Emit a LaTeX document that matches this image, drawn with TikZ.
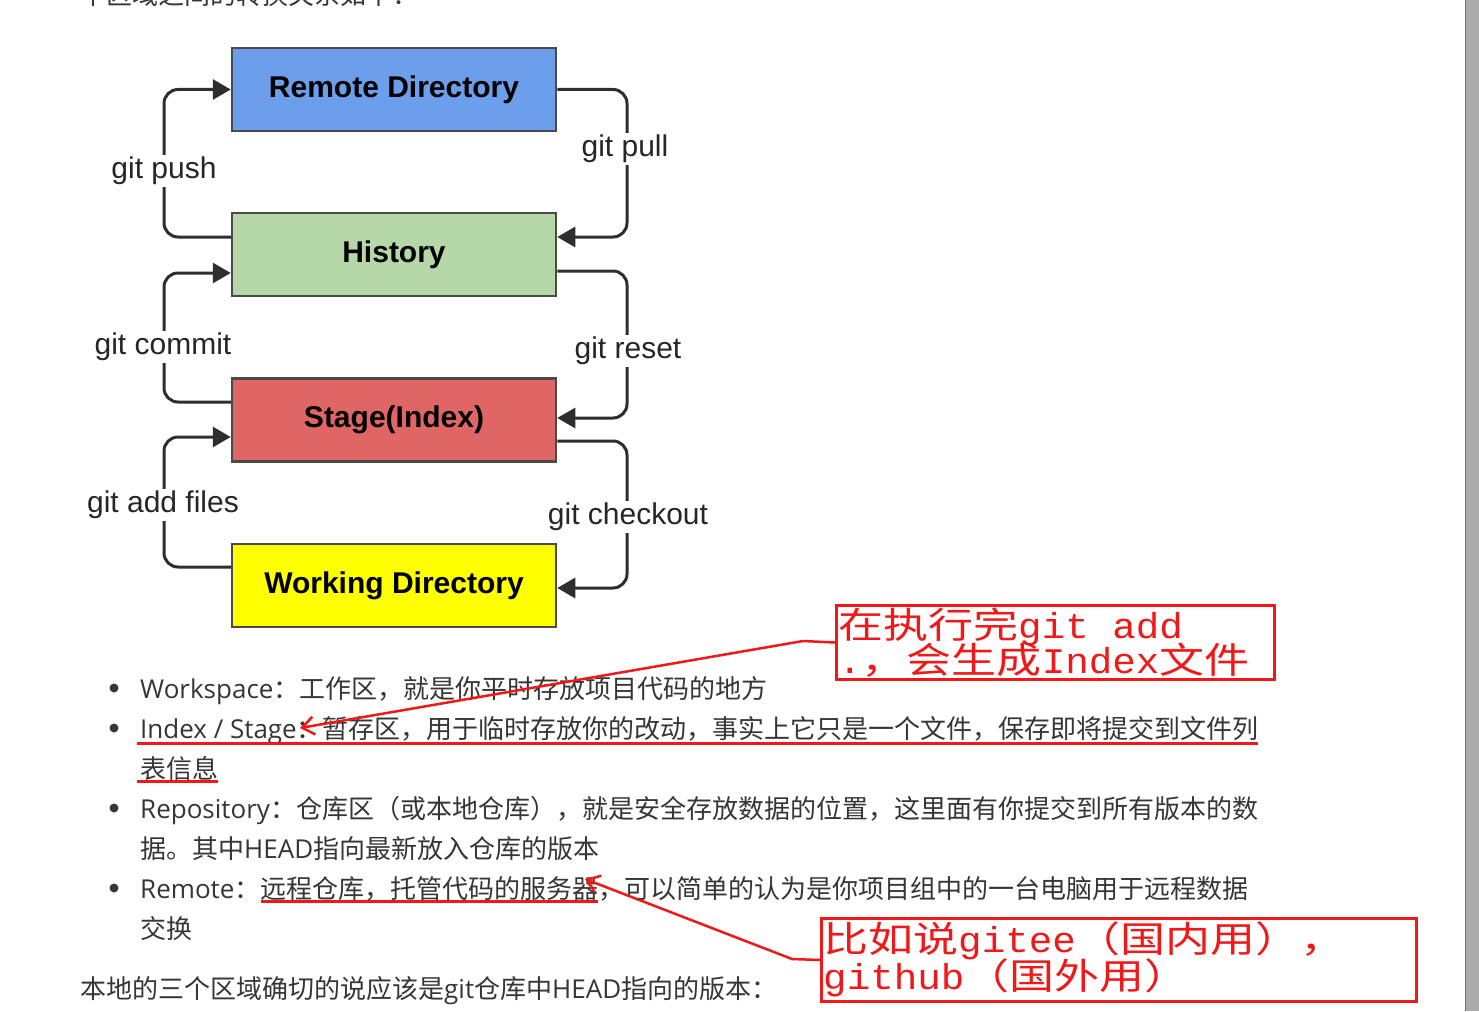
\documentclass[tikz,border=0pt]{standalone}
\usepackage{fontspec}
\setmainfont{Open Sans}
\newfontfamily\zhfont{Noto Sans CJK SC}
\newfontfamily\diafont{Liberation Sans}
\newfontfamily\redzh[FakeStretch=1.25]{Noto Sans CJK SC}
\newfontfamily\redlat[FakeStretch=1.09]{Liberation Mono}
\usetikzlibrary{arrows.meta}
\definecolor{remoteblue}{HTML}{6D9EEB}
\definecolor{histgreen}{HTML}{B6D7A8}
\definecolor{stagered}{HTML}{E06666}
\definecolor{workyellow}{HTML}{FFFF00}
\definecolor{boxborder}{HTML}{4A4A4A}
\definecolor{connc}{HTML}{2E2E2E}
\definecolor{txt}{HTML}{363636}
\definecolor{annot}{HTML}{F01818}
\definecolor{scrollc}{HTML}{ABABAB}
\definecolor{scrolledge}{HTML}{707070}
\newcommand\zh[1]{{\zhfont #1}}
\newcommand\rz[1]{{\redzh #1}}
\newcommand\rl[1]{{\redlat #1}}
\begin{document}
\begin{tikzpicture}[x=1pt,y=-1pt,
 areabox/.style={draw=boxborder, line width=2.5pt, minimum width=324pt, minimum height=83pt, inner sep=0pt, font=\diafont\bfseries\fontsize{30}{36}\selectfont, text=black},
 cmd/.style={fill=white, inner sep=2pt, font=\diafont\fontsize{30}{36}\selectfont, text=black!85},
 conn/.style={draw=connc, line width=3pt, rounded corners=14pt, -{Triangle[length=18pt,width=20pt]}},
 body/.style={anchor=base west, inner sep=0pt, text=txt, font=\fontsize{26}{32}\selectfont},
 dot/.style={circle, fill=txt, inner sep=0pt, minimum size=9pt},
 redbox/.style={draw=annot, line width=3pt, inner sep=0pt, anchor=north west},
 redtext/.style={anchor=base west, inner sep=0pt, text=annot, font=\fontsize{36}{40}\selectfont},
 redline/.style={draw=annot, line width=3pt},
 redarr/.style={draw=annot, line width=2.5pt, -{Straight Barb[length=12pt,width=18pt]}},
]
\useasboundingbox (0,0) rectangle (1479,1011);
\clip (0,0) rectangle (1479,1011);
\fill[white] (0,0) rectangle (1479,1011);

% scrollbar
\fill[scrollc] (1466,0) rectangle (1479,1011);
\draw[scrolledge, line width=1.2pt] (1465.5,0) -- (1465.5,1011);

% cut-off heading text (clipped at the top edge as in the reference)
\node[body] (t0) at (80,5) {\zh{个区域之间的转换关系如下：}};

% area boxes
\node[areabox, fill=remoteblue] (remote) at (394,89.5) {Remote Directory};
\node[areabox, fill=histgreen] (history) at (394,254.5) {History};
\node[areabox, fill=stagered] (stage) at (394,420) {Stage(Index)};
\node[areabox, fill=workyellow] (work) at (394,585.5) {Working Directory};

\coordinate (lx) at (164,0);
\coordinate (rx) at (627,0);

% connectors
\draw[conn] (history.west |- 0,237) -| (lx |- remote.west) -- (remote.west);
\draw[conn] (remote.east) -| (rx |- 0,237) -- (history.east |- 0,237);
\draw[conn] (stage.west |- 0,402) -| (lx |- 0,273) -- (history.west |- 0,273);
\draw[conn] (history.east |- 0,271) -| (rx |- 0,418) -- (stage.east |- 0,418);
\draw[conn] (work.west |- 0,567) -| (lx |- 0,437) -- (stage.west |- 0,437);
\draw[conn] (stage.east |- 0,441) -| (rx |- 0,588) -- (work.east |- 0,588);

% connector labels
\node[cmd] (lpush) at (164,171) {git push};
\node[cmd] (lpull) at (625,149) {git pull};
\node[cmd] (lcommit) at (163,347) {git commit};
\node[cmd] (lreset) at (628,351) {git reset};
\node[cmd] (ladd) at (163,505) {git add files};
\node[cmd] (lcheck) at (628,517) {git checkout};

% body text
\node[dot] (b1) at (114,688) {};
\node[body] (t1) at (140,698) {Workspace\zh{：工作区，就是你平时存放项目代码的地方}};
\node[dot] (b2) at (114,728) {};
\node[body] (t2) at (140,738) {Index / Stage\zh{：暂存区，用于临时存放你的改动，事实上它只是一个文件，保存即将提交到文件列}};
\node[body] (t3) at (140,778) {\zh{表信息}};
\node[dot] (b3) at (114,808) {};
\node[body] (t4) at (140,818) {Repository\zh{：仓库区（或本地仓库），就是安全存放数据的位置，这里面有你提交到所有版本的数}};
\node[body] (t5) at (140,858) {\zh{据。其中}HEAD\zh{指向最新放入仓库的版本}};
\node[dot] (b4) at (114,888) {};
\node[body] (t6) at (140,898) {Remote\zh{：远程仓库，托管代码的服务器，可以简单的认为是你项目组中的一台电脑用于远程数据}};
\node[body] (t7) at (140,938) {\zh{交换}};
\node[body] (t8) at (80,998) {\zh{本地的三个区域确切的说应该是}git\zh{仓库中}HEAD\zh{指向的版本：}};

% red underlines
\draw[redline] (137,743) -- (1258,743);
\draw[redline] (137,781) -- (218,781);
\draw[redline] (261,901) -- (598,901);

% red notes
\node[redbox, minimum width=438pt, minimum height=74pt] (note1) at (835,604) {};
\node[redtext] (note1a) at (838,638) {\rz{在执行完}\rl{git add}};
\node[redtext] (note1b) at (838,673) {\rl{.}\rz{，会生成}\rl{Index}\rz{文件}};
\node[redbox, minimum width=595pt, minimum height=83pt] (note2) at (820,917) {};
\node[redtext] (note2a) at (823,952) {\rz{比如说}\rl{gitee}\rz{（国内用），}};
\node[redtext] (note2b) at (823,989) {\rl{github}\rz{（国外用）}};

\coordinate (bend1) at (803,641);
\coordinate (tip1) at (300,728);
\coordinate (bend2) at (792,959);
\coordinate (tip2) at (585,879);
\draw[redarr] (note1.west) -- (bend1) -- (tip1);
\draw[redarr] (note2.west) -- (bend2) -- (tip2);
\end{tikzpicture}
\end{document}
